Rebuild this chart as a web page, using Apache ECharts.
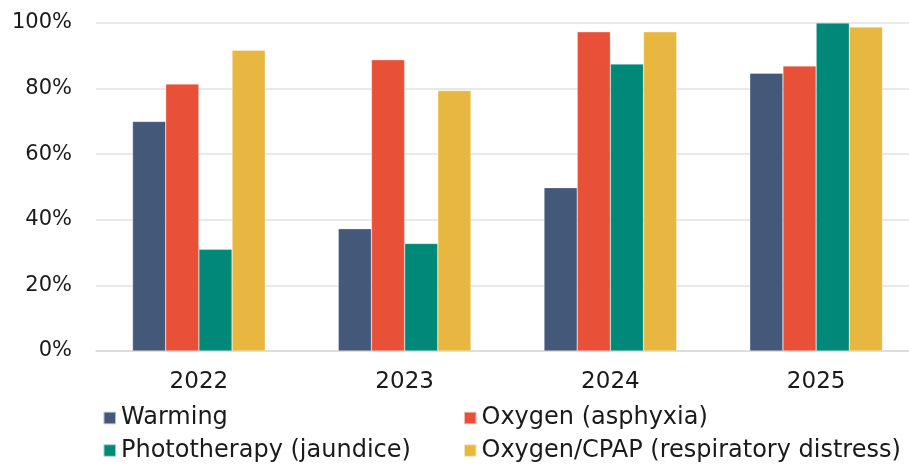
<!DOCTYPE html>
<html><head><meta charset="utf-8">
<script src="https://cdn.jsdelivr.net/npm/echarts@6/dist/echarts.min.js"></script>
<style>html,body{margin:0;padding:0;background:#fff;overflow:hidden}#c{width:919px;height:465px}</style>
</head><body><div id="c"></div>
<script>
const categories = ['2022', '2023', '2024', '2025'];
const warming = [70, 37.3, 49.8, 84.7];
const oxygenAsphyxia = [81.4, 88.8, 97.3, 86.9];
const phototherapy = [31.0, 32.8, 87.5, 100];
const oxygenCpap = [91.7, 79.4, 97.3, 98.8];
const seriesNames = ['Warming', 'Oxygen (asphyxia)', 'Phototherapy (jaundice)', 'Oxygen/CPAP (respiratory distress)'];
const colors = ['#44587a', '#e85137', '#008878', '#e8b73f'];
const values = [warming, oxygenAsphyxia, phototherapy, oxygenCpap];

const FONT = 'DejaVu Sans';
const txtColor = '#1a1a1a';
const chart = echarts.init(document.getElementById('c'), null, {renderer: 'canvas'});
const legendPos = [[102.5, 406], [463, 406], [102.5, 438.5], [463, 438.5]];
chart.setOption({
  animation: false,
  grid: {left: 96, top: 23, right: 0, height: 328, containLabel: false},
  legend: seriesNames.map((n, i) => ({
    data: [n], left: legendPos[i][0], top: legendPos[i][1], padding: 0,
    icon: 'rect', itemWidth: 12.5, itemHeight: 12.5, itemGap: 0,
    textStyle: {fontFamily: FONT, fontSize: 24, lineHeight: 24, color: txtColor}
  })),
  xAxis: {
    type: 'category', data: categories,
    axisLine: {lineStyle: {color: '#d9d9d9', width: 1.5}},
    axisTick: {show: false},
    axisLabel: {margin: 20, fontFamily: FONT, fontSize: 23, color: txtColor}
  },
  yAxis: {
    type: 'value', min: 0, max: 100, interval: 20,
    axisLabel: {margin: 24, formatter: '{value}%', fontFamily: FONT, fontSize: 21, color: txtColor},
    splitLine: {lineStyle: {color: '#e2e2e2', width: 1.5}},
    axisLine: {show: false}, axisTick: {show: false}
  },
  series: seriesNames.map((n, i) => ({
    name: n, type: 'bar', data: values[i],
    barGap: '0%', barCategoryGap: '35.5%',
    itemStyle: {color: colors[i], borderColor: 'rgba(255,255,255,0.6)', borderWidth: 0.5}
  }))
});
</script></body></html>
